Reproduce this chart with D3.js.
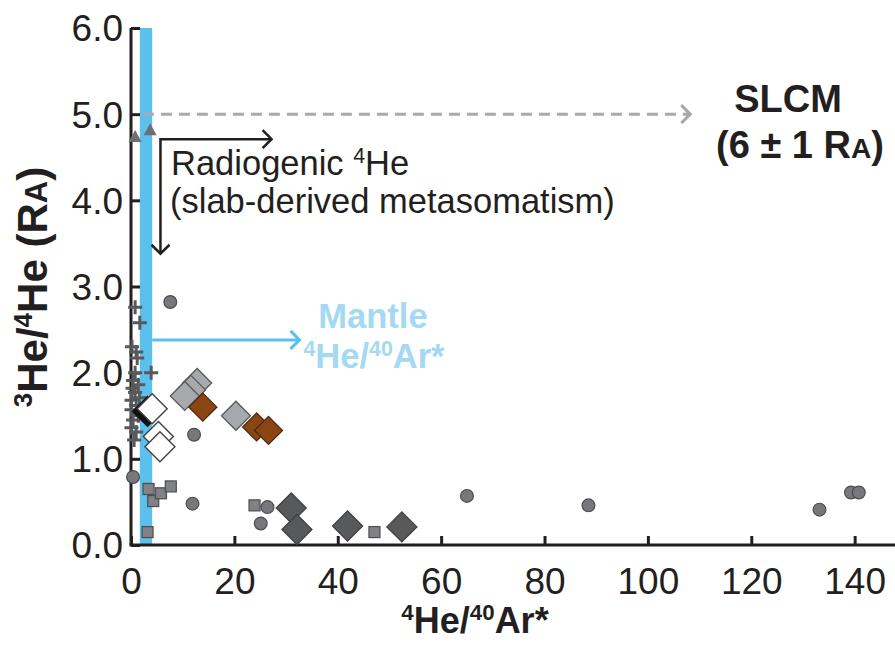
<!DOCTYPE html>
<html>
<head>
<meta charset="utf-8">
<script src="https://cdn.jsdelivr.net/npm/d3@7"></script>
<style>
  html, body { margin: 0; padding: 0; background: #fff; }
  svg { display: block; }
  text { font-family: "Liberation Sans", Arial, Helvetica, sans-serif; }
</style>
</head>
<body>
<svg id="chart" width="895" height="648"></svg>
<script>
// ---- Data: 4He/40Ar* (x) vs 3He/4He in RA (y) ----
const crosses = [
  [0.8, 2.76], [1.7, 2.58], [0.2, 2.30], [1.0, 2.24], [1.2, 2.17], [0.8, 2.00],
  [3.9, 2.00], [0.4, 1.91], [1.4, 1.86], [0.3, 1.82], [0.8, 1.77], [1.6, 1.71],
  [0.1, 1.68], [1.0, 1.62], [0.1, 1.57], [1.4, 1.50], [0.4, 1.45], [0.1, 1.36],
  [1.0, 1.31], [0.6, 1.22]
];
const circles = [
  [7.6, 2.82], [12.2, 1.28], [0.4, 0.79], [11.9, 0.48], [26.4, 0.44], [25.1, 0.25],
  [65.0, 0.57], [88.5, 0.46], [133.2, 0.41], [139.3, 0.61], [140.8, 0.61]
];
const squares = [
  [3.4, 0.65], [4.3, 0.51], [5.8, 0.60], [7.7, 0.68], [3.2, 0.15], [23.9, 0.46], [47.1, 0.15]
];
const triangles = [[0.8, 4.74], [3.7, 4.82]];
const darkDiamonds = [[31.0, 0.43], [32.1, 0.18], [41.9, 0.22], [52.4, 0.21]];
const lightDiamonds = [[12.8, 1.88], [11.6, 1.80], [10.4, 1.73], [20.3, 1.50]];
const brownDiamonds = [[13.9, 1.60], [24.3, 1.37], [26.6, 1.33]];
const blackDiamonds = [[3.2, 1.55]];
const whiteDiamonds = [[4.1, 1.58], [5.3, 1.26], [5.6, 1.14]];

const xTicks = [0, 20, 40, 60, 80, 100, 120, 140];
const yTicks = [0, 1, 2, 3, 4, 5, 6];
const mantleBand = [1.7, 4.1];       // range of mantle 4He/40Ar*
const slcmRatio = 5.0;               // SLCM reference line
const mantleArrowY = 2.38;

// ---- Layout ----
const svg = d3.select("#chart");
const ink = "#231f20";
const x = d3.scaleLinear().domain([0, 148]).range([131, 896]);
const y = d3.scaleLinear().domain([0, 6]).range([545, 28]);

// Mantle band
svg.append("rect")
  .attr("x", x(mantleBand[0])).attr("y", y(6))
  .attr("width", x(mantleBand[1]) - x(mantleBand[0]))
  .attr("height", y(0) - y(6))
  .attr("fill", "#5bc0eb");

// Axes (ticks pointing inward)
const xAxis = d3.axisBottom(x).tickValues(xTicks).tickSize(-9).tickPadding(24).tickFormat(d3.format("d"));
const yAxis = d3.axisLeft(y).tickValues(yTicks).tickSize(-9).tickPadding(8).tickFormat(d3.format(".1f"));

const gx = svg.append("g").attr("transform", `translate(0,${y(0)})`).call(xAxis);
const gy = svg.append("g").attr("transform", `translate(${x(0)},0)`).call(yAxis);
[gx, gy].forEach(g => {
  g.select(".domain").remove();
  g.selectAll(".tick line").attr("stroke", ink).attr("stroke-width", 3);
  g.selectAll(".tick text").attr("fill", ink).attr("font-size", 37)
    .style("font-family", '"Liberation Sans", Arial, sans-serif');
});
gx.selectAll(".tick text").attr("dy", "0.71em").attr("y", 23);
gy.selectAll(".tick text").attr("dy", "0.35em");

// Axis lines
svg.append("line").attr("x1", x(0)).attr("x2", x(0)).attr("y1", y(6)).attr("y2", y(0))
  .attr("stroke", ink).attr("stroke-width", 3);
svg.append("line").attr("x1", x(0) - 1.5).attr("x2", 895).attr("y1", y(0)).attr("y2", y(0))
  .attr("stroke", ink).attr("stroke-width", 3);

// Arrowhead helper (open chevron)
function chevron(g, px, py, dir, color, w) {
  const s = 9;
  let pts;
  if (dir === "right") pts = [[px - s, py - s], [px, py], [px - s, py + s]];
  else pts = [[px - s, py - s], [px, py], [px + s, py - s]];
  g.append("polyline").attr("points", pts.map(p => p.join(",")).join(" "))
    .attr("fill", "none").attr("stroke", color).attr("stroke-width", w)
    .attr("stroke-linejoin", "miter");
}

const ann = svg.append("g");

// SLCM dashed reference arrow
ann.append("line")
  .attr("x1", x(2.3)).attr("x2", x(108)).attr("y1", y(slcmRatio)).attr("y2", y(slcmRatio))
  .attr("stroke", "#a7a9ac").attr("stroke-width", 3).attr("stroke-dasharray", "11,7");
chevron(ann, x(108.2), y(slcmRatio), "right", "#a7a9ac", 3);

// Radiogenic 4He arrows
const rx = x(5.7), ry = y(4.71), rBottom = y(3.38);
ann.append("path")
  .attr("d", `M${rx},${rBottom} L${rx},${ry} L${x(27.2)},${ry}`)
  .attr("fill", "none").attr("stroke", ink).attr("stroke-width", 2.5);
chevron(ann, x(27.2), ry, "right", ink, 2.5);
chevron(ann, rx, rBottom, "down", ink, 2.5);

// Mantle arrow
ann.append("line")
  .attr("x1", x(mantleBand[1])).attr("x2", x(32.5))
  .attr("y1", y(mantleArrowY)).attr("y2", y(mantleArrowY))
  .attr("stroke", "#5bc0eb").attr("stroke-width", 3);
chevron(ann, x(32.6), y(mantleArrowY), "right", "#5bc0eb", 3);

// ---- Symbols ----
const marks = svg.append("g");

// crosses
marks.selectAll(".cross").data(crosses).join("path")
  .attr("d", d => {
    const cx = x(d[0]), cy = y(d[1]), a = 7;
    return `M${cx - a},${cy}H${cx + a}M${cx},${cy - a}V${cy + a}`;
  })
  .attr("stroke", "#58595b").attr("stroke-width", 3).attr("fill", "none");

// circles
marks.selectAll(".circ").data(circles).join("circle")
  .attr("cx", d => x(d[0])).attr("cy", d => y(d[1])).attr("r", 6.4)
  .attr("fill", "#77787b").attr("stroke", "#4d4d4f").attr("stroke-width", 1.2);

// squares
marks.selectAll(".sq").data(squares).join("rect")
  .attr("x", d => x(d[0]) - 5.5).attr("y", d => y(d[1]) - 5.5)
  .attr("width", 11).attr("height", 11)
  .attr("fill", "#808285").attr("stroke", "#4d4d4f").attr("stroke-width", 1.2);

// triangles
marks.selectAll(".tri").data(triangles).join("path")
  .attr("d", d => {
    const cx = x(d[0]), cy = y(d[1]);
    return `M${cx},${cy - 6.5}L${cx + 6.5},${cy + 5.5}L${cx - 6.5},${cy + 5.5}Z`;
  })
  .attr("fill", "#6d6e71");

// diamonds
function diamonds(data, r, fill, stroke, sw) {
  marks.append("g").selectAll("path").data(data).join("path")
    .attr("d", d => {
      const cx = x(d[0]), cy = y(d[1]);
      return `M${cx},${cy - r}L${cx + r},${cy}L${cx},${cy + r}L${cx - r},${cy}Z`;
    })
    .attr("fill", fill).attr("stroke", stroke).attr("stroke-width", sw);
}
diamonds(darkDiamonds, 15, "#58595b", "#414042", 1.3);
diamonds(lightDiamonds, 14.5, "#a7a9ac", "#58595b", 1.3);
diamonds(brownDiamonds, 14, "#8b4513", "#4a2a12", 1.3);
diamonds(blackDiamonds, 15, "#111", "#111", 1.3);
diamonds(whiteDiamonds, 15, "#ffffff", "#414042", 1.4);

// ---- Text ----
// parts: [string, kind] with kind "sup" (superscript), "sc" (small capital) or plain
function richText(parent, parts, size) {
  let raised = false;
  parts.forEach(([s, kind]) => {
    const t = parent.append("tspan").text(s);
    if (kind === "sup") {
      t.attr("font-size", size * 0.62).attr("dy", raised ? 0 : -size * 0.36);
      raised = true;
    } else {
      if (kind === "sc") t.attr("font-size", size * 0.74);
      if (raised) t.attr("dy", size * 0.36);
      raised = false;
    }
  });
}

// Radiogenic label
const radSize = 34.5;
const rad = svg.append("text").attr("x", 171).attr("y", 175).attr("fill", ink).attr("font-size", radSize);
richText(rad, [["Radiogenic ", ""], ["4", "sup"], ["He", ""]], radSize);
svg.append("text").attr("x", 170).attr("y", 213).attr("fill", ink).attr("font-size", radSize)
  .text("(slab-derived metasomatism)");

// SLCM label
svg.append("text").attr("x", 788).attr("y", 112).attr("text-anchor", "middle")
  .attr("fill", ink).attr("font-size", 38).attr("font-weight", "bold").text("SLCM");
const sl = svg.append("text").attr("x", 800).attr("y", 158).attr("text-anchor", "middle")
  .attr("fill", ink).attr("font-size", 38).attr("font-weight", "bold");
richText(sl, [["(6 ± 1 R", ""], ["A", "sc"], [")", ""]], 38);

// Mantle label
const mantleCol = "#a3d9f2";
svg.append("text").attr("x", 373).attr("y", 328).attr("text-anchor", "middle")
  .attr("fill", mantleCol).attr("font-size", 34.5).attr("font-weight", "bold").text("Mantle");
const ml = svg.append("text").attr("x", 374).attr("y", 368).attr("text-anchor", "middle")
  .attr("fill", mantleCol).attr("font-size", 34.5).attr("font-weight", "bold");
richText(ml, [["4", "sup"], ["He/", ""], ["40", "sup"], ["Ar*", ""]], 34.5);

// Axis titles
const xt = svg.append("text").attr("x", 475).attr("y", 633).attr("text-anchor", "middle")
  .attr("fill", ink).attr("font-size", 36).attr("font-weight", "bold");
richText(xt, [["4", "sup"], ["He/", ""], ["40", "sup"], ["Ar*", ""]], 36);

const yt = svg.append("text").attr("transform", "translate(47,287) rotate(-90)")
  .attr("text-anchor", "middle").attr("fill", ink).attr("font-size", 42).attr("font-weight", "bold");
richText(yt, [["3", "sup"], ["He/", ""], ["4", "sup"], ["He (R", ""], ["A", "sc"], [")", ""]], 42);
</script>
</body>
</html>
